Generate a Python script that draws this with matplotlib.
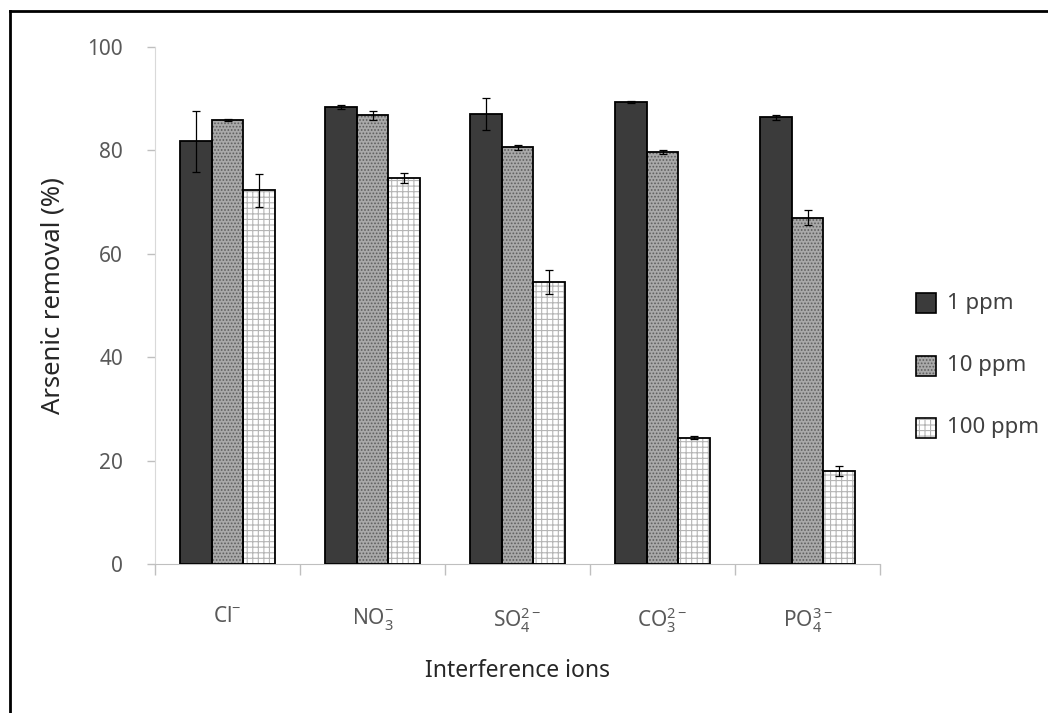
import numpy as np
import matplotlib
matplotlib.use("Agg")
import matplotlib.pyplot as plt
from matplotlib.patches import Rectangle
from matplotlib.lines import Line2D

plt.rcParams['font.family'] = ['Noto Sans', 'DejaVu Sans']
plt.rcParams['mathtext.fontset'] = 'custom'
plt.rcParams['mathtext.rm'] = 'Noto Sans'
plt.rcParams['mathtext.it'] = 'Noto Sans'
plt.rcParams['hatch.linewidth'] = 0.8

# data
ions = [r'Cl$^{-}$', r'NO$_{3}^{-}$', r'SO$_{4}^{2-}$', r'CO$_{3}^{2-}$', r'PO$_{4}^{3-}$']
series = ['1 ppm', '10 ppm', '100 ppm']
removal_1ppm = [81.8, 88.4, 87.1, 89.4, 86.4]
removal_10ppm = [85.9, 86.8, 80.6, 79.7, 67.0]
removal_100ppm = [72.3, 74.6, 54.5, 24.4, 18.0]
err_1ppm = [5.9, 0.3, 3.1, 0.2, 0.5]
err_10ppm = [0.2, 0.9, 0.5, 0.3, 1.4]
err_100ppm = [3.2, 1.0, 2.3, 0.3, 1.0]

# styles: (face, hatch, hatch colour)
styles = [('#3b3b3b', None, '#3b3b3b'),
          ('#a9a9a9', '.....', '#5e5e5e'),
          ('#ffffff', '+++', '#b5b5b5')]

fig = plt.figure(figsize=(10.48, 7.13), dpi=100)
ax = fig.add_axes([155 / 1048, 149 / 713, 725 / 1048, 517 / 713])

x = np.arange(len(ions))
w = 0.22
vals = [removal_1ppm, removal_10ppm, removal_100ppm]
errs = [err_1ppm, err_10ppm, err_100ppm]

for i, (v, e) in enumerate(zip(vals, errs)):
    pos = x + (i - 1) * w
    face, hatch, hcol = styles[i]
    # fill + hatch, then a black outline on top
    ax.bar(pos, v, w, color=face, hatch=hatch, edgecolor=hcol, linewidth=0, zorder=2)
    ax.bar(pos, v, w, fill=False, edgecolor='black', linewidth=1.3, zorder=3)
    ax.errorbar(pos, v, yerr=e, fmt='none', ecolor='black', elinewidth=0.9,
                capsize=3, capthick=0.9, zorder=4)

ax.set_xlim(-0.5, len(ions) - 0.5)
ax.set_ylim(0, 100)
ax.set_yticks([0, 20, 40, 60, 80, 100])
ax.set_xticks(x)
ax.set_xticklabels(ions, fontsize=15, color='#595959')
ax.set_xticks(np.arange(-0.5, len(ions), 1), minor=True)
ax.tick_params(axis='x', which='major', length=0, pad=30)
ax.tick_params(axis='x', which='minor', length=8, color='#bfbfbf', width=1)
ax.tick_params(axis='y', length=6, color='#bfbfbf', width=1, pad=17,
               labelsize=15, labelcolor='#595959')

for s in ['top', 'right']:
    ax.spines[s].set_visible(False)
ax.spines['left'].set_color('#d9d9d9')
ax.spines['bottom'].set_color('#bfbfbf')
ax.spines['left'].set_bounds(0, 100)

ax.set_ylabel('Arsenic removal (%)', fontsize=18.5, color='#262626')
ax.yaxis.set_label_coords(-0.123, 0.52)
ax.set_xlabel('Interference ions', fontsize=16.5, color='#262626')
ax.xaxis.set_label_coords(0.5, -0.183)

# legend drawn by hand on the figure
leg_y = [303, 366, 428]
for i, name in enumerate(series):
    face, hatch, hcol = styles[i]
    x0, y0 = 916 / 1048, (713 - leg_y[i] - 10) / 713
    ww, hh = 20 / 1048, 20 / 713
    fig.add_artist(Rectangle((x0, y0), ww, hh, transform=fig.transFigure,
                             facecolor=face, hatch=hatch, edgecolor=hcol, linewidth=0))
    fig.add_artist(Rectangle((x0, y0), ww, hh, transform=fig.transFigure,
                             fill=False, edgecolor='black', linewidth=1.2))
    fig.text(947 / 1048, (713 - leg_y[i]) / 713, name, fontsize=16,
             color='#404040', va='center', ha='left')

# frame lines of the original picture
fig.add_artist(Line2D([10 / 1048, 10 / 1048], [0, 1 - 11 / 713], transform=fig.transFigure,
                      color='black', linewidth=2))
fig.add_artist(Line2D([10 / 1048, 1], [1 - 11 / 713, 1 - 11 / 713], transform=fig.transFigure,
                      color='black', linewidth=2))

fig.savefig('out.png', dpi=100)
